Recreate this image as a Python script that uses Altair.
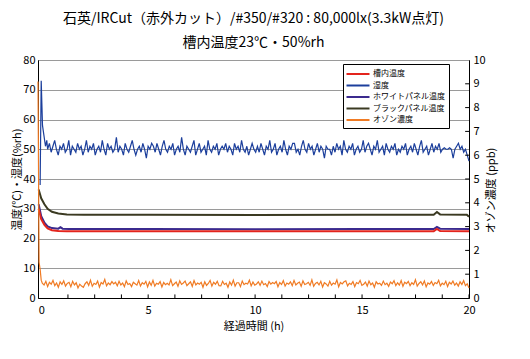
import altair as alt
import numpy as np
import pandas as pd

FONT = "Noto Sans CJK JP"

names = ["槽内温度", "湿度", "ホワイトパネル温度", "ブラックパネル温度", "オゾン濃度"]
colors = ["#e3241d", "#1c3f9c", "#3b2a8e", "#3b3a22", "#f07b24"]

title_lines = ["石英/IRCut（赤外カット）/#350/#320 : 80,000lx(3.3kW点灯)", "槽内温度23℃・50%rh"]

# chamber temperature (left axis, deg C)
red_t = [-0.12, 0.0, 0.15, 0.3, 0.5, 0.8, 1.2, 5, 10, 15, 18.35, 18.5, 18.65, 20]
red_v = [30.0, 26.5, 24.6, 23.4, 22.8, 22.5, 22.4, 22.4, 22.4, 22.4, 22.4, 23.2, 22.5, 22.4]

# white panel temperature
wp_t = [-0.12, 0.0, 0.15, 0.3, 0.5, 0.8, 0.9, 1.0, 1.3, 5, 10, 15, 18.35, 18.5, 18.65, 20]
wp_v = [31.5, 27.5, 25.3, 24.1, 23.5, 23.3, 23.8, 23.3, 23.2, 23.2, 23.1, 23.2, 23.2, 23.9, 23.3, 23.2]

# black panel temperature
bp_t = [-0.12, 0.0, 0.15, 0.3, 0.5, 0.8, 1.2, 2, 5, 10, 15, 18.35, 18.5, 18.65, 19.9, 20]
bp_v = [36.5, 33.5, 31.5, 30.0, 29.0, 28.4, 28.1, 28.0, 28.0, 27.9, 28.0, 28.0, 28.9, 28.1, 28.0, 27.3]

# humidity (%rh): start-up part, then the logged noisy trace
hum_start_t = [-0.05, 0.0, 0.06, 0.12, 0.2, 0.26]
hum_start_v = [38, 73, 58, 55, 51, 53]
hum_v = [
    50, 52, 49, 51, 53, 50, 48, 51, 50, 52, 49, 50, 53, 48, 51, 50, 49, 52, 50, 51,
    48, 50, 53, 49, 51, 50, 52, 48, 50, 51, 49, 53, 50, 48, 52, 50, 51, 49, 50, 54,
    49, 51, 50, 48, 52, 50, 49, 51, 53, 50, 48, 50, 51, 49, 52, 50, 47, 51, 50, 52,
    51, 49, 52, 50, 48, 51, 53, 50, 49, 51, 50, 52, 48, 50, 51, 49, 54, 50, 48, 51,
    50, 49, 51, 53, 48, 50, 52, 49, 50, 51, 48, 53, 50, 49, 51, 50, 52, 48, 50, 51,
    50, 52, 49, 51, 50, 48, 52, 50, 51, 49, 53, 50, 49, 51, 48, 50, 52, 50, 49, 51,
    49, 52, 50, 48, 51, 50, 53, 49, 50, 52, 48, 50, 51, 49, 53, 50, 48, 51, 50, 52,
    52, 49, 50, 48, 51, 53, 50, 49, 52, 50, 51, 48, 50, 52, 49, 51, 50, 47, 51, 50,
    50, 48, 51, 49, 52, 50, 51, 48, 53, 50, 49, 51, 50, 52, 48, 50, 51, 49, 50, 53,
    49, 51, 52, 50, 48, 51, 50, 53, 49, 50, 51, 48, 52, 50, 49, 51, 50, 52, 48, 50,
    49, 51, 50, 52, 48, 50, 51, 49, 52, 50, 48, 51, 53, 49, 50, 51, 48, 50, 52, 49,
    51, 50, 52, 49, 50, 50.5, 50, 50, 50.5, 50, 47, 50, 51, 52, 50, 51, 49, 50, 48, 46,
]

# ozone (ppb, right axis)
oz_start_t = [-0.15, -0.1, -0.05, 0.0]
oz_start_v = [9.1, 1.5, 1.2, 0.75]
oz_v = [
    0.62, 0.55, 0.70, 0.48, 0.66, 0.58, 0.74, 0.52, 0.63, 0.45,
    0.68, 0.57, 0.72, 0.50, 0.61, 0.66, 0.47, 0.70, 0.55, 0.64,
    0.42, 0.58, 0.50, 0.45, 0.60, 0.68, 0.53, 0.75, 0.49, 0.62,
    0.57, 0.71, 0.46, 0.65, 0.59, 0.78, 0.51, 0.63, 0.56, 0.69,
    0.59, 0.66, 0.51, 0.70, 0.55, 0.63, 0.48, 0.72, 0.57, 0.61,
    0.48, 0.66, 0.60, 0.54, 0.73, 0.50, 0.64, 0.58, 0.70, 0.47,
    0.67, 0.53, 0.74, 0.50, 0.62, 0.58, 0.69, 0.46, 0.65, 0.56,
    0.62, 0.55, 0.77, 0.52, 0.60, 0.67, 0.49, 0.72, 0.57, 0.63,
    0.71, 0.52, 0.60, 0.68, 0.49, 0.73, 0.55, 0.63, 0.58, 0.66,
    0.45, 0.68, 0.53, 0.61, 0.74, 0.50, 0.66, 0.58, 0.70, 0.52,
    0.51, 0.70, 0.57, 0.62, 0.45, 0.67, 0.54, 0.75, 0.50, 0.64,
    0.64, 0.48, 0.71, 0.56, 0.62, 0.59, 0.75, 0.51, 0.67, 0.54,
    0.59, 0.68, 0.53, 0.71, 0.56, 0.61, 0.48, 0.69, 0.58, 0.65,
    0.60, 0.69, 0.47, 0.65, 0.57, 0.73, 0.50, 0.63, 0.58, 0.68,
    0.52, 0.74, 0.55, 0.62, 0.67, 0.49, 0.72, 0.57, 0.60, 0.66,
    0.53, 0.76, 0.49, 0.61, 0.66, 0.55, 0.70, 0.46, 0.64, 0.59,
    0.50, 0.70, 0.54, 0.63, 0.58, 0.76, 0.47, 0.65, 0.59, 0.68,
    0.72, 0.51, 0.62, 0.57, 0.69, 0.48, 0.65, 0.60, 0.74, 0.53,
    0.58, 0.67, 0.50, 0.71, 0.56, 0.63, 0.45, 0.68, 0.59, 0.62,
    0.53, 0.71, 0.56, 0.62, 0.49, 0.67, 0.60, 0.73, 0.52, 0.64,
    0.54, 0.73, 0.49, 0.66, 0.60, 0.70, 0.52, 0.64, 0.57, 0.77,
    0.50, 0.61, 0.68, 0.55, 0.72, 0.47, 0.63, 0.58, 0.69, 0.53,
    0.65, 0.60, 0.74, 0.51, 0.62, 0.56, 0.70, 0.48, 0.66, 0.59,
    0.71, 0.54, 0.63, 0.50, 0.68, 0.57, 0.73, 0.52, 0.60, 0.42,
]

x_ticks = [i * 1.25 for i in range(17)]
left_ticks = [0, 10, 20, 30, 40, 50, 60, 70, 80]
right_ticks = list(range(11))
right_minor = list(range(1, 10))

# ---- tables
hum_t = hum_start_t + list(np.linspace(0.3, 20, len(hum_v)))
oz_t = oz_start_t + list(np.linspace(0.05, 20, len(oz_v)))

hum_df = pd.DataFrame({"t": hum_t, "v": hum_start_v + hum_v, "s": names[1]})
temp_df = pd.concat([
    pd.DataFrame({"t": bp_t, "v": bp_v, "s": names[3]}),
    pd.DataFrame({"t": wp_t, "v": wp_v, "s": names[2]}),
    pd.DataFrame({"t": red_t, "v": red_v, "s": names[0]}),
])
oz_df = pd.DataFrame({"t": oz_t, "v": oz_start_v + oz_v, "s": names[4]})
xt_df = pd.DataFrame({"t": x_ticks[1:]})
rt_df = pd.DataFrame({"v": right_minor})

x_scale = alt.Scale(domain=[-0.15, 20], nice=False, zero=False)
yl_scale = alt.Scale(domain=[0, 80], nice=False)
yr_scale = alt.Scale(domain=[0, 10], nice=False)

color = alt.Color(
    "s:N",
    scale=alt.Scale(domain=names, range=colors),
    legend=alt.Legend(
        title=None, orient="none", legendX=305, legendY=4,
        strokeColor="#000", fillColor="#fff", padding=4,
        symbolType="M-2.3,0L2.3,0", symbolSize=100, symbolStrokeWidth=2,
        symbolOffset=5, labelOffset=9,
        labelFontSize=8, labelFont=FONT, rowPadding=1.5,
        labelExpr="datum.label + '\u3000\u3000'",
    ),
)

x_axis = alt.Axis(
    values=x_ticks, labelExpr="datum.value % 5 == 0 ? datum.label : ''",
    title="経過時間 (h)", grid=False, ticks=False, labelPadding=6,
    labelFlush=False, labelOverlap=False, titlePadding=5,
)
left_axis = alt.Axis(
    orient="left", values=left_ticks, title="温度(℃)・湿度(%rh)",
    grid=True, gridColor="#9a9a9a", ticks=False, labelPadding=3, titlePadding=0,
)
right_axis = alt.Axis(
    orient="right", values=right_ticks, title="オゾン濃度 (ppb)",
    titleAngle=270, grid=False, ticks=False, labelPadding=4, titlePadding=11,
    titleY=130,
)

x_enc = alt.X("t:Q", scale=x_scale, axis=x_axis)
yl_enc = alt.Y("v:Q", scale=yl_scale, axis=left_axis)

hum = alt.Chart(hum_df).mark_line(strokeWidth=1.2).encode(x=x_enc, y=yl_enc, color=color)
temps = alt.Chart(temp_df).mark_line(strokeWidth=2).encode(x=x_enc, y=yl_enc, color=color)
xminor = alt.Chart(xt_df).mark_rule(color="#000", strokeWidth=1).encode(
    x=x_enc,
    y=alt.datum(0, type="quantitative", scale=yl_scale, axis=left_axis),
    y2=alt.datum(1.2),
)
left = alt.layer(hum, temps, xminor)

oz = alt.Chart(oz_df).mark_line(strokeWidth=1.2).encode(
    x=x_enc,
    y=alt.Y("v:Q", scale=yr_scale, axis=right_axis),
    color=color,
)
rminor = alt.Chart(rt_df).mark_rule(color="#000", strokeWidth=1).encode(
    y=alt.Y("v:Q", scale=yr_scale, axis=right_axis),
    x=alt.datum(20, type="quantitative", scale=x_scale, axis=x_axis),
    x2=alt.datum(19.82),
)
right = alt.layer(oz, rminor)

chart = (
    alt.layer(left, right)
    .resolve_scale(y="independent")
    .properties(
        width=431, height=238,
        autosize="none",
        padding={"left": 30, "top": 52, "right": 50, "bottom": 45},
        title=alt.TitleParams(
            text=title_lines, fontSize=14, font=FONT, fontWeight="normal",
            lineHeight=24, anchor="middle", offset=4, color="#000",
        ),
    )
    .configure(font=FONT)
    .configure_view(stroke="#222", strokeWidth=1)
    .configure_axis(
        labelFontSize=11, titleFontSize=11, labelColor="#000", titleColor="#000",
        domainColor="#000", titleFontWeight="normal", labelFont=FONT, titleFont=FONT,
    )
)

chart.save("out.html", embed_options={"renderer": "svg", "actions": False})
